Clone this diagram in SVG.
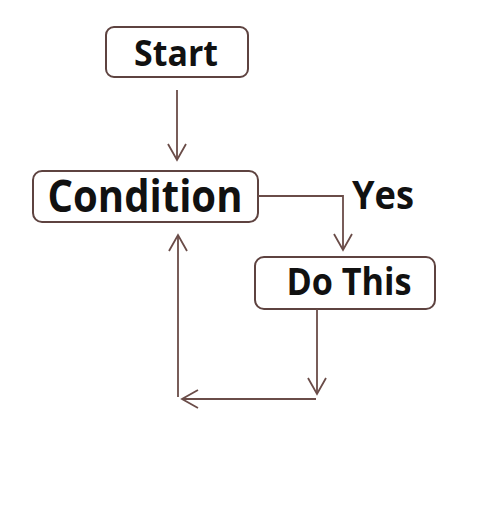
<svg xmlns="http://www.w3.org/2000/svg" width="480" height="520" viewBox="0 0 480 520">
<style>
.box{fill:#fff;stroke:#5e4340;stroke-width:2}
.t{font-family:"Open Sans","Liberation Sans",sans-serif;font-weight:bold;fill:#111}
.c{fill:none;stroke:#6a4c48;stroke-width:1.8}
</style>
<defs>
<marker id="ah" viewBox="0 0 20 20" refX="18" refY="10" markerWidth="20" markerHeight="20" markerUnits="userSpaceOnUse" orient="auto">
<path d="M2,1 L18,10 L2,19" fill="none" stroke="#6a4c48" stroke-width="1.8"/>
</marker>
</defs>
<rect width="480" height="520" fill="#fff"/>
<g id="start">
<rect class="box" x="106" y="27" width="142" height="50" rx="8"/>
<text class="t" x="176" y="66" font-size="35" text-anchor="middle" textLength="84" lengthAdjust="spacingAndGlyphs">Start</text>
</g>
<g id="condition">
<rect class="box" x="33" y="171" width="225" height="51" rx="9"/>
<text class="t" x="145" y="212" font-size="44" text-anchor="middle" textLength="195" lengthAdjust="spacingAndGlyphs">Condition</text>
</g>
<g id="dothis">
<rect class="box" x="255" y="257" width="180" height="52" rx="9"/>
<text class="t" x="349" y="295" font-size="37" text-anchor="middle" textLength="125" lengthAdjust="spacingAndGlyphs">Do This</text>
</g>
<g id="yes">
<text class="t" x="352" y="209" font-size="39" textLength="62" lengthAdjust="spacingAndGlyphs">Yes</text>
</g>
<g id="connectors">
<path class="c" d="M177,90 L177,160" marker-end="url(#ah)"/>
<path class="c" d="M258,196 L343,196 L343,250" marker-end="url(#ah)"/>
<path class="c" d="M317,309 L317,394" marker-end="url(#ah)"/>
<path class="c" d="M316,399 L182,399" marker-end="url(#ah)"/>
<path class="c" d="M178,397 L178,235" marker-end="url(#ah)"/>
</g>
</svg>
